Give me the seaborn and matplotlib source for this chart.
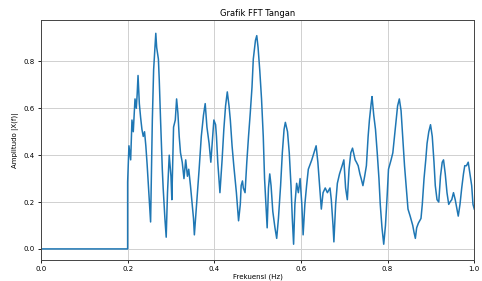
import numpy as np
import pandas as pd
import seaborn as sns
import matplotlib.pyplot as plt

# FFT magnitude (Hz normalised, |X(f)|)
freq = [0.0, 0.2, 0.2, 0.203, 0.207, 0.210, 0.213, 0.217, 0.220, 0.222, 0.224, 0.227,
        0.230, 0.233, 0.236, 0.239, 0.242, 0.245, 0.249, 0.253, 0.257, 0.260, 0.265,
        0.267, 0.271, 0.273, 0.276, 0.280, 0.282, 0.286, 0.289, 0.292, 0.296, 0.300,
        0.302, 0.306, 0.310, 0.313, 0.316, 0.319, 0.322, 0.326, 0.330, 0.334, 0.338,
        0.341, 0.345, 0.349, 0.352, 0.354, 0.358, 0.361, 0.365, 0.370, 0.375, 0.379,
        0.383, 0.388, 0.392, 0.395, 0.399, 0.403, 0.405, 0.408, 0.413, 0.418, 0.422,
        0.426, 0.430, 0.434, 0.437, 0.441, 0.445, 0.451, 0.456, 0.460, 0.462, 0.465,
        0.467, 0.471, 0.475, 0.479, 0.483, 0.487, 0.490, 0.495, 0.498, 0.501, 0.505,
        0.509, 0.513, 0.516, 0.520, 0.522, 0.525, 0.528, 0.531, 0.535, 0.540, 0.544,
        0.548, 0.553, 0.557, 0.561, 0.564, 0.569, 0.573, 0.577, 0.580, 0.583, 0.586,
        0.590, 0.594, 0.598, 0.602, 0.605, 0.609, 0.613, 0.617, 0.620, 0.625, 0.630,
        0.635, 0.639, 0.643, 0.647, 0.651, 0.656, 0.661, 0.667, 0.670, 0.674, 0.676,
        0.680, 0.684, 0.689, 0.695, 0.699, 0.703, 0.707, 0.711, 0.715, 0.719, 0.725,
        0.728, 0.732, 0.736, 0.739, 0.743, 0.747, 0.751, 0.755, 0.758, 0.762, 0.764,
        0.768, 0.772, 0.776, 0.780, 0.783, 0.787, 0.791, 0.795, 0.799, 0.802, 0.808,
        0.812, 0.818, 0.823, 0.827, 0.831, 0.835, 0.839, 0.843, 0.847, 0.852, 0.858,
        0.861, 0.864, 0.867, 0.871, 0.877, 0.880, 0.884, 0.888, 0.891, 0.895, 0.899,
        0.903, 0.907, 0.910, 0.914, 0.918, 0.922, 0.926, 0.929, 0.933, 0.937, 0.941,
        0.944, 0.948, 0.952, 0.956, 0.960, 0.963, 0.967, 0.971, 0.975, 0.978, 0.982,
        0.986, 0.990, 0.994, 0.997, 1.0]
amp = [0.0, 0.0, 0.285, 0.44, 0.38, 0.55, 0.50, 0.64, 0.60, 0.66, 0.74, 0.62,
       0.56, 0.51, 0.48, 0.50, 0.44, 0.36, 0.24, 0.115, 0.55, 0.765, 0.92,
       0.86, 0.81, 0.72, 0.55, 0.34, 0.26, 0.13, 0.05, 0.24, 0.40, 0.31,
       0.21, 0.52, 0.55, 0.64, 0.58, 0.48, 0.41, 0.37, 0.30, 0.38, 0.31,
       0.34, 0.27, 0.19, 0.13, 0.06, 0.16, 0.24, 0.34, 0.48, 0.57, 0.62,
       0.52, 0.45, 0.37, 0.45, 0.55, 0.53, 0.48, 0.37, 0.24, 0.38, 0.51,
       0.61, 0.67, 0.61, 0.55, 0.44, 0.355, 0.24, 0.12, 0.19, 0.27, 0.29,
       0.26, 0.24, 0.37, 0.48, 0.58, 0.69, 0.81, 0.89, 0.91, 0.86, 0.76,
       0.64, 0.48, 0.30, 0.16, 0.09, 0.26, 0.32, 0.27, 0.16, 0.09, 0.045,
       0.13, 0.27, 0.41, 0.51, 0.54, 0.50, 0.41, 0.27, 0.13, 0.02, 0.19,
       0.28, 0.24, 0.30, 0.19, 0.06, 0.19, 0.27, 0.34, 0.355, 0.38, 0.41,
       0.44, 0.37, 0.27, 0.17, 0.24, 0.26, 0.24, 0.26, 0.21, 0.10, 0.03,
       0.19, 0.28, 0.32, 0.355, 0.38, 0.26, 0.21, 0.34, 0.41, 0.43, 0.38,
       0.37, 0.355, 0.32, 0.30, 0.27, 0.31, 0.355, 0.48, 0.55, 0.62, 0.65,
       0.57, 0.51, 0.41, 0.30, 0.19, 0.09, 0.02, 0.10, 0.23, 0.34, 0.38,
       0.41, 0.52, 0.61, 0.64, 0.59, 0.47, 0.355, 0.26, 0.17, 0.14, 0.10,
       0.07, 0.045, 0.09, 0.11, 0.13, 0.19, 0.30, 0.38, 0.45, 0.50, 0.53,
       0.48, 0.37, 0.27, 0.21, 0.20, 0.31, 0.37, 0.38, 0.32, 0.24, 0.19,
       0.20, 0.21, 0.24, 0.21, 0.17, 0.14, 0.19, 0.26, 0.32, 0.355, 0.355,
       0.37, 0.32, 0.27, 0.19, 0.17]

xticks = [0.0, 0.2, 0.4, 0.6, 0.8, 1.0]
yticks = [0.0, 0.2, 0.4, 0.6, 0.8]

df = pd.DataFrame({"Frekuensi": freq, "Amplitudo": amp})

fig = plt.figure(figsize=(4.82, 2.81), dpi=100)
ax = fig.add_axes([0.085, 0.075, 0.899, 0.854])

sns.lineplot(data=df, x="Frekuensi", y="Amplitudo", estimator=None, sort=False,
             color="#1f77b4", linewidth=1.1, ax=ax)

ax.set_xlim(0, 1)
ax.set_ylim(-0.047, 0.977)
ax.set_xticks(xticks)
ax.set_yticks(yticks)
ax.tick_params(labelsize=5, length=2.5, width=0.6, pad=2)
ax.grid(True, color="#d0d0d0", linewidth=0.7)
ax.set_axisbelow(True)
for s in ax.spines.values():
    s.set_linewidth(0.7)
    s.set_color("#444444")

ax.set_title("Grafik FFT Tangan", fontsize=6, pad=3)
ax.set_xlabel("Frekuensi (Hz)", fontsize=5, labelpad=1)
ax.set_ylabel("Amplitudo |X(f)|", fontsize=5, labelpad=3)

plt.savefig("out.png", dpi=100)
